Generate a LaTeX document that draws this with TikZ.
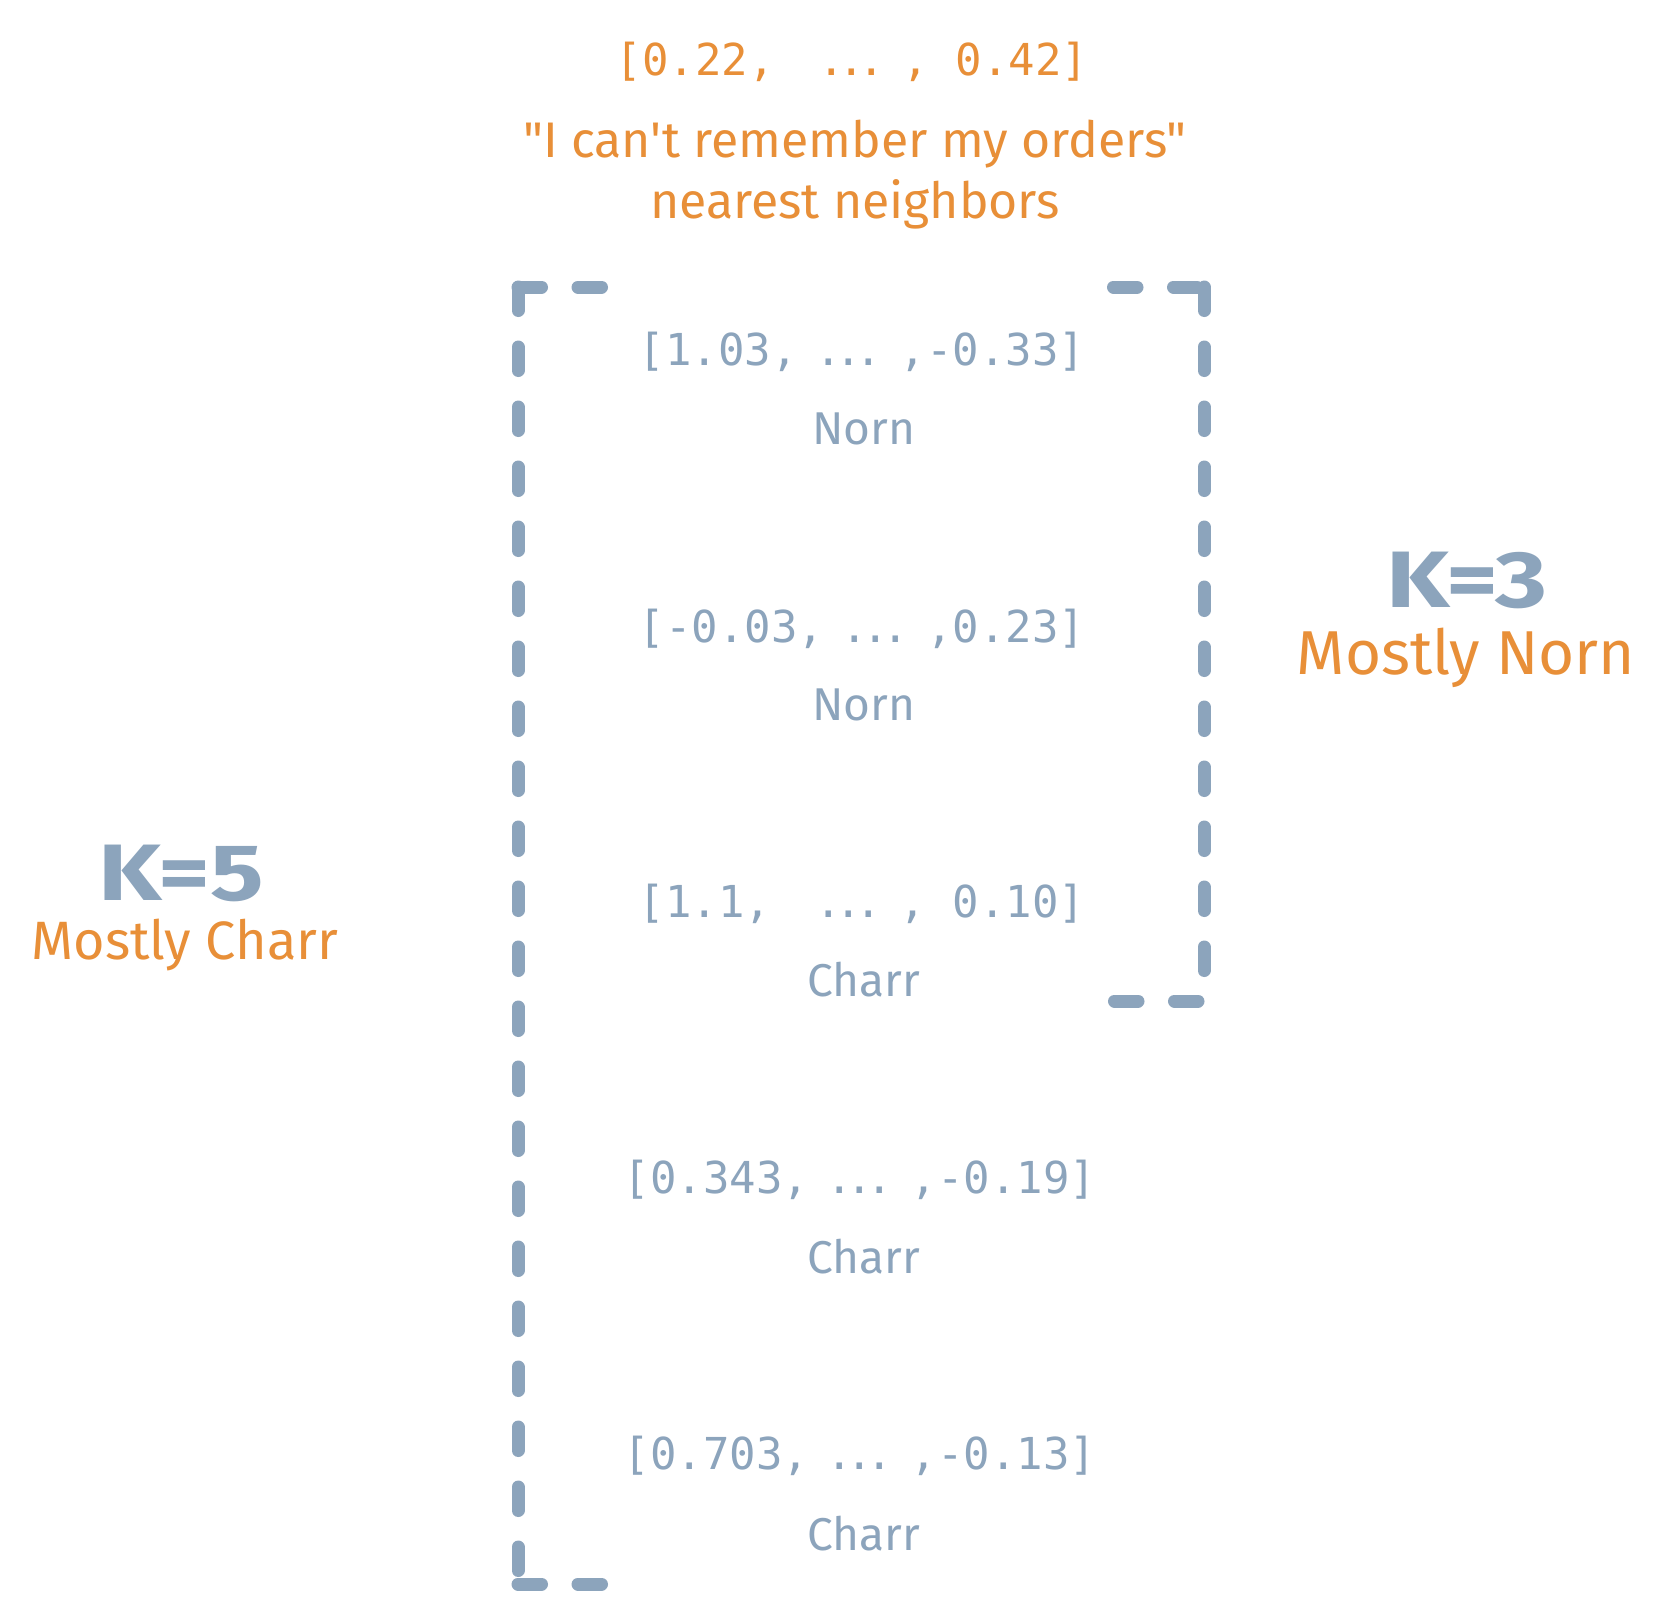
\documentclass[tikz,border=0pt]{standalone}
\usepackage{fontspec}
\newfontfamily\hand{Fira Sans}
\newfontfamily\monof{DejaVu Sans Mono}
\definecolor{bluegray}{HTML}{8CA4BC}
\definecolor{orng}{HTML}{E88F38}
\newcommand{\myellip}{\makebox[49pt][c]{.\kern-6.4pt.\kern-6.4pt.}}
\begin{document}
\begin{tikzpicture}[x=1pt,y=-1pt,
  vec/.style={font=\monof\fontsize{44}{52}\selectfont, text=bluegray, inner sep=0pt},
  vectop/.style={vec, text=orng},
  lbl/.style={font=\hand\fontsize{46}{56}\selectfont, text=bluegray, inner sep=0pt},
  note/.style={font=\hand\fontsize{50}{61}\selectfont, text=orng, inner sep=0pt, align=center},
  kval/.style={font=\hand\bfseries\fontsize{80}{90}\selectfont, text=bluegray, inner sep=0pt, xscale=1.25},
  verdict/.style={font=\hand\fontsize{#1}{#1}\selectfont, text=orng, inner sep=0pt},
  brack/.style={draw=bluegray, line width=13pt, line cap=round, dash pattern=on 23.5pt off 36.5pt}
]
\fill[white] (0,0) rectangle (1667,1614);
\useasboundingbox (0,0) rectangle (1667,1614);

% query
\node[vectop] (q) at (852,62) {[0.22,\ \ \myellip\ ,\ 0.42]};
\node[note] (qt) at (855,175) {"I can't remember my orders"\\nearest neighbors};

% neighbours
\node[vec] (v1) at (862,352) {[1.03,\ \myellip\ ,-0.33]};
\node[lbl] (l1) at (864,429) {Norn};
\node[vec] (v2) at (862,629) {[-0.03,\ \myellip\ ,0.23]};
\node[lbl] (l2) at (864,705) {Norn};
\node[vec] (v3) at (862,904) {[1.1,\ \ \myellip\ ,\ 0.10]};
\node[lbl] (l3) at (864,980) {Charr};
\node[vec] (v4) at (860,1180) {[0.343,\ \myellip\ ,-0.19]};
\node[lbl] (l4) at (864,1257) {Charr};
\node[vec] (v5) at (860,1456) {[0.703,\ \myellip\ ,-0.13]};
\node[lbl] (l5) at (864,1534) {Charr};

% left bracket
\coordinate (a1) at (601.5,287);
\coordinate (a2) at (518,287);
\coordinate (a3) at (518,1584);
\coordinate (a4) at (601.5,1584);
\draw[brack] (a1) -- (a2);
\draw[brack] (a2) -- (a3);
\draw[brack] (a3) -- (a4);
% right bracket
\coordinate (b1) at (1113.5,287);
\coordinate (b2) at (1204,287);
\coordinate (b3) at (1204,1001);
\coordinate (b4) at (1198,1001);
\coordinate (b5) at (1113.5,1001);
\draw[brack] (b1) -- (b2);
\draw[brack] (b2) -- (b3);
\draw[brack] (b4) -- (b5);

% K labels
\node[kval] (k3) at (1467,580) {K=3};
\node[verdict=62] (m3) at (1466,658) {Mostly Norn};
\node[kval] (k5) at (181,873) {K=5};
\node[verdict=54] (m5) at (185,945) {Mostly Charr};
\end{tikzpicture}
\end{document}
